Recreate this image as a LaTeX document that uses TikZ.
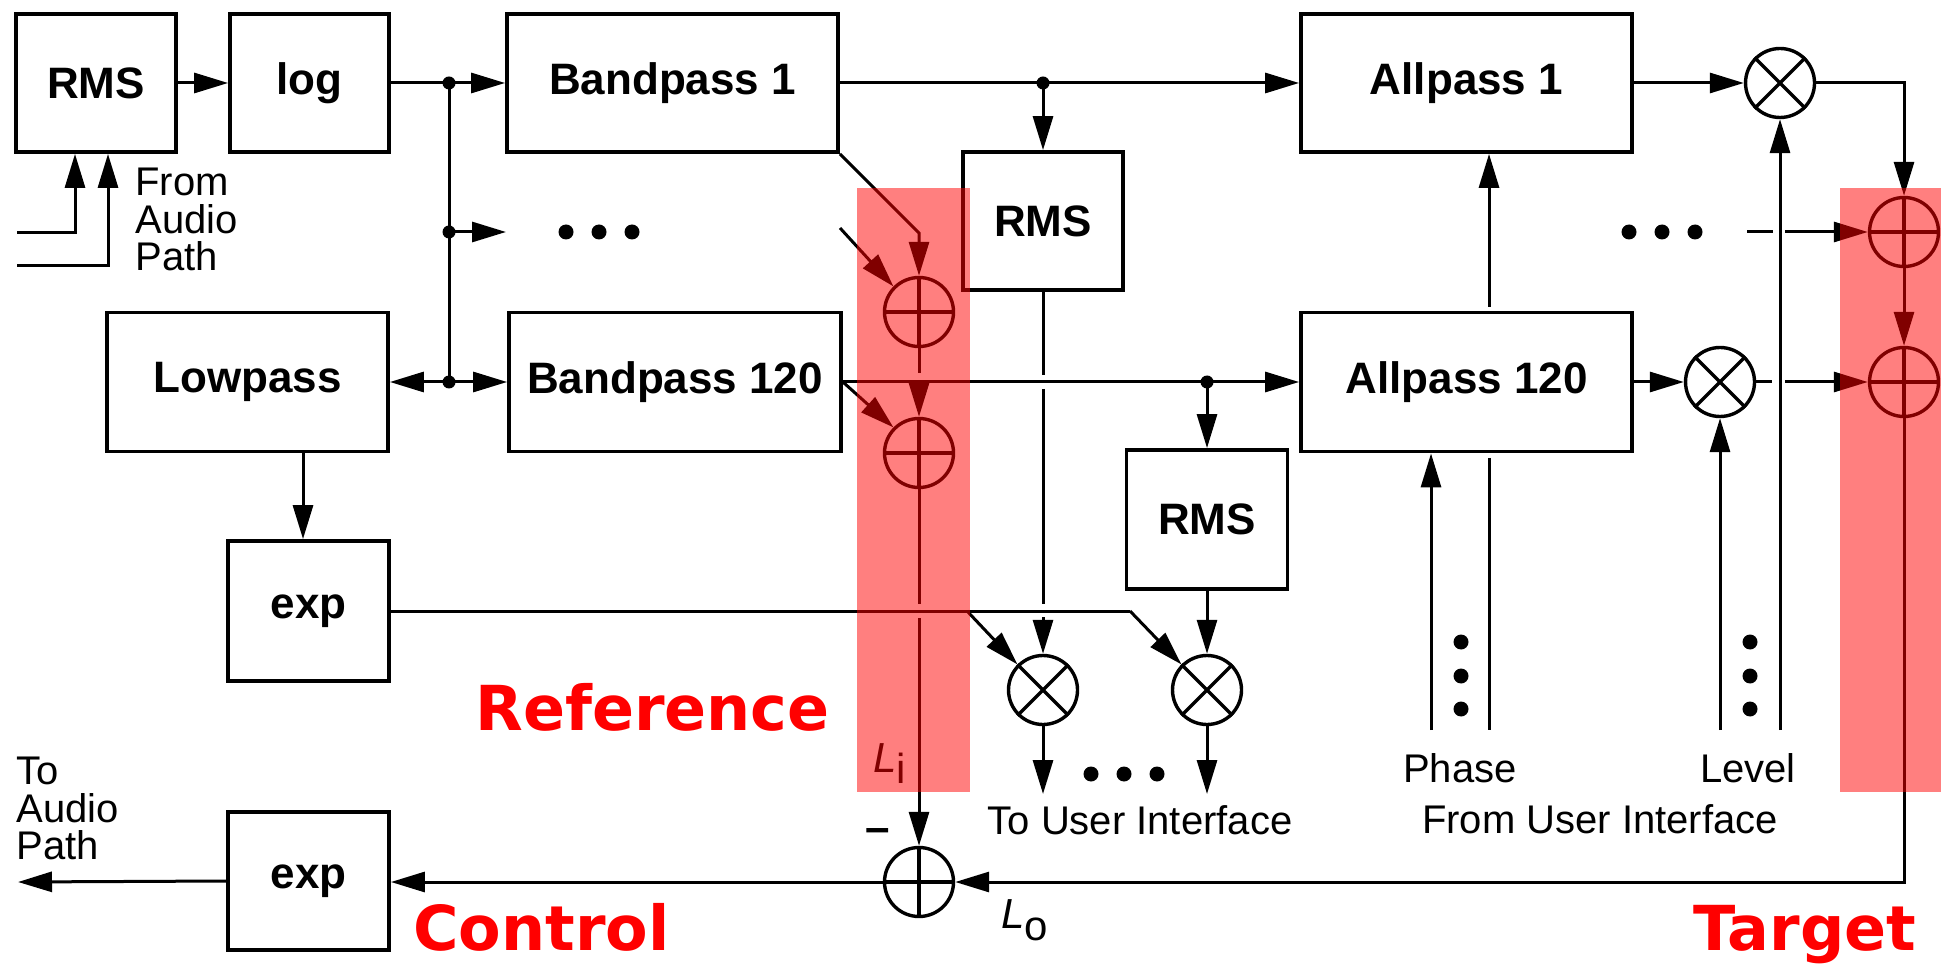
\documentclass[tikz,border=0pt]{standalone}
\usepackage{fontspec}
\setmainfont{Liberation Sans}
\newfontfamily\redfont{DejaVu Sans}
\usetikzlibrary{arrows.meta}
\begin{document}
\begin{tikzpicture}[x=0.5pt,y=-0.5pt,
  >={Triangle[length=17pt,width=10pt]},
  box/.style={draw, line width=1.9pt, inner sep=0pt, font=\fontsize{22}{26}\selectfont\bfseries},
  ln/.style={line width=1.5pt},
  op/.style={circle, draw, line width=1.7pt, minimum size=34.5pt, inner sep=0pt},
  crs/.style={line width=1.7pt},
  jdot/.style={circle, fill, inner sep=0pt, minimum size=6.5pt},
  edot/.style={circle, fill, inner sep=0pt, minimum size=7.5pt},
  lbl/.style={inner sep=0pt, font=\fontsize{20}{18.75}\selectfont},
  redlbl/.style={inner sep=0pt, text=red, font=\redfont\bfseries\fontsize{31}{36}\selectfont},
  hilite/.style={fill=red, fill opacity=0.5, draw=none},
]
\useasboundingbox (0,0) rectangle (1941,967);

% boxes
\node[box, minimum width=80pt, minimum height=69pt] (rms1) at (96,83) {RMS};
\node[box, minimum width=79.5pt, minimum height=69pt] (log) at (309.5,83) {log};
\node[box, minimum width=165.5pt, minimum height=69pt] (bp1) at (672.5,83) {Bandpass 1};
\node[box, minimum width=80pt, minimum height=69pt] (rms2) at (1043,221) {RMS};
\node[box, minimum width=165.5pt, minimum height=69pt] (ap1) at (1466.5,83) {Allpass 1};
\node[box, minimum width=140.5pt, minimum height=69.5pt] (lp) at (247.5,382) {Lowpass};
\node[box, minimum width=166pt, minimum height=69.5pt] (bp120) at (675,382) {Bandpass 120};
\node[box, minimum width=165.5pt, minimum height=69.5pt] (ap120) at (1466.5,382) {Allpass 120};
\node[box, minimum width=80.5pt, minimum height=69.5pt] (rms3) at (1207,519.5) {RMS};
\node[box, minimum width=80.5pt, minimum height=70pt] (exp1) at (308.5,611) {exp};
\node[box, minimum width=80.5pt, minimum height=69pt] (exp2) at (308.5,881) {exp};

% operators
\node[op] (s1) at (919,312) {};
\node[op] (s2) at (919,453) {};
\node[op] (sL) at (919,882) {};
\node[op] (sR1) at (1904,232) {};
\node[op] (sR2) at (1904,382) {};
\node[op] (m1) at (1780,83) {};
\node[op] (m2) at (1720,382) {};
\node[op] (m3) at (1043,690) {};
\node[op] (m4) at (1207,690) {};
\foreach \n in {s1,s2,sL,sR1,sR2}
  \draw[crs] (\n.north) -- (\n.south) (\n.west) -- (\n.east);
\foreach \n in {m1,m2,m3,m4}
  \draw[crs] (\n.north west) -- (\n.south east) (\n.north east) -- (\n.south west);

% junction dots
\node[jdot] (j1) at (449,83) {};
\node[jdot] (j2) at (449,232) {};
\node[jdot] (j3) at (449,382) {};
\node[jdot] (j4) at (1043,83) {};
\node[jdot] (j5) at (1207,382) {};

% ellipsis dots
\foreach \x [count=\i] in {566,599,632} \node[edot] (ea\i) at (\x,232) {};
\foreach \x [count=\i] in {1629,1662,1695} \node[edot] (eb\i) at (\x,232) {};
\foreach \x [count=\i] in {1091,1124,1157} \node[edot] (ec\i) at (\x,774) {};
\foreach \y [count=\i] in {642,676,709} \node[edot] (ed\i) at (1461,\y) {};
\foreach \y [count=\i] in {642,676,709} \node[edot] (ee\i) at (1750,\y) {};

% coordinates
\coordinate (in1) at (17,233);
\coordinate (in2) at (17,266);
\coordinate (ax1) at (75,233);
\coordinate (ax2) at (108,266);
\coordinate (mid1) at (506,232);
\coordinate (lx) at (303,0);
\coordinate (k1) at (919,233);
\coordinate (d1) at (840,228);
\coordinate (g1a) at (919,373);
\coordinate (g1b) at (919,389);
\coordinate (g2a) at (919,604);
\coordinate (g2b) at (919,618);
\coordinate (r2a) at (1043,375);
\coordinate (r2b) at (1043,389);
\coordinate (r2c) at (1043,604);
\coordinate (r2d) at (1043,617);
\coordinate (e1) at (967,611);
\coordinate (e2) at (1130,611);
\coordinate (o3) at (1043,794);
\coordinate (o4) at (1207,794);
\coordinate (br) at (1904,882);
\coordinate (out) at (18,882);
\coordinate (tr) at (1904,83);
\coordinate (da) at (1747,232);
\coordinate (db) at (1773,232);
\coordinate (dc) at (1785,232);
\coordinate (dd) at (1772,382);
\coordinate (de) at (1785,382);
\coordinate (v1) at (1489,307);
\coordinate (v2) at (1489,458);
\coordinate (v2b) at (1489,730);
\coordinate (ph) at (1431,730);
\coordinate (lv1) at (1720,730);
\coordinate (lv2) at (1780,730);

% connectors left
\draw[ln,->] (rms1.east) -- (log.west);
\draw[ln,->] (log.east) -- (j1.center) -- (bp1.west);
\draw[ln] (j1.center) -- (j3.center);
\draw[ln,->] (j2.center) -- (mid1);
\draw[ln,->] (j3.center) -- (lp.east);
\draw[ln,->] (j3.center) -- (bp120.west);
\draw[ln,->] (in1) -| (rms1.south -| ax1);
\draw[ln,->] (in2) -| (rms1.south -| ax2);
\draw[ln,->] (lp.south -| lx) -- (exp1.north -| lx);

% middle
\draw[ln,->] (bp1.east) -- (j4.center) -- (ap1.west);
\draw[ln,->] (j4.center) -- (rms2.north);
\draw[ln,->] (bp1.south east) -- (k1) -- (s1.north);
\draw[ln,->] (d1) -- (s1.north west);
\draw[ln] (s1.south) -- (g1a);
\draw[ln,->] (g1b) -- (s2.north);
\draw[ln,->] (bp120.east) -- (s2.north west);
\draw[ln] (bp120.east) -- (j5.center);
\draw[ln,->] (j5.center) -- (ap120.west);
\draw[ln,->] (j5.center) -- (rms3.north);
\draw[ln] (rms2.south) -- (r2a);
\draw[ln] (r2b) -- (r2c);
\draw[ln,->] (r2d) -- (m3.north);
\draw[ln,->] (rms3.south) -- (m4.north);
\draw[ln] (exp1.east) -- (e2);
\draw[ln,->] (e1) -- (m3.north west);
\draw[ln,->] (e2) -- (m4.north west);
\draw[ln,->] (m3.south) -- (o3);
\draw[ln,->] (m4.south) -- (o4);
\draw[ln] (s2.south) -- (g2a);
\draw[ln,->] (g2b) -- (sL.north);
\draw[ln,->] (sR2.south) -- (br) -- (sL.east);
\draw[ln,->] (sL.west) -- (sL.west -| exp2.east);
\draw[ln,->] (exp2.west) -- (out);

% right
\draw[ln,->] (ap1.east) -- (m1.west);
\draw[ln,->] (m1.east) -- (tr) -- (sR1.north);
\draw[ln,->] (sR1.south) -- (sR2.north);
\draw[ln] (da) -- (db);
\draw[ln,->] (dc) -- (sR1.west);
\draw[ln,->] (ap120.east) -- (m2.west);
\draw[ln] (m2.east) -- (dd);
\draw[ln,->] (de) -- (sR2.west);
\draw[ln,->] (v1) -- (ap1.south -| v1);
\draw[ln] (v2) -- (v2b);
\draw[ln,->] (ph) -- (ap120.south -| ph);
\draw[ln,->] (lv1) -- (m2.south);
\draw[ln,->] (lv2) -- (m1.south);

% texts
\node[lbl, anchor=north west, align=left] (fap) at (135,168) {From\\Audio\\Path};
\node[lbl, anchor=north west, align=left] (tap) at (16,757) {To\\Audio\\Path};
\node[lbl, anchor=base] (phase) at (1460,782) {Phase};
\node[lbl, anchor=base] (level) at (1748,782) {Level};
\node[lbl, anchor=base] (fui) at (1600,833) {From User Interface};
\node[lbl, anchor=base] (tui) at (1140,834) {To User Interface};
\node[lbl, anchor=base west, font=\fontsize{21}{24}\selectfont] (li) at (873,772) {\itshape L\/\upshape\raisebox{-5.5pt}{i}};
\node[lbl, anchor=base west, font=\fontsize{21}{24}\selectfont] (lo) at (1001,928) {\itshape L\/\upshape\raisebox{-6pt}{o}};
\node[inner sep=0pt, anchor=base, font=\fontsize{22}{26}\selectfont\bfseries] (minus) at (878,842) {–};
\node[redlbl, anchor=base west] (ref) at (475,730) {Reference};
\node[redlbl, anchor=base west] (ctrl) at (413,950) {Control};
\node[redlbl, anchor=base west] (tgt) at (1693,950) {Target};

% highlights
\fill[hilite] (857,188) rectangle (970,792);
\fill[hilite] (1840,188) rectangle (1941,792);
\end{tikzpicture}
\end{document}
